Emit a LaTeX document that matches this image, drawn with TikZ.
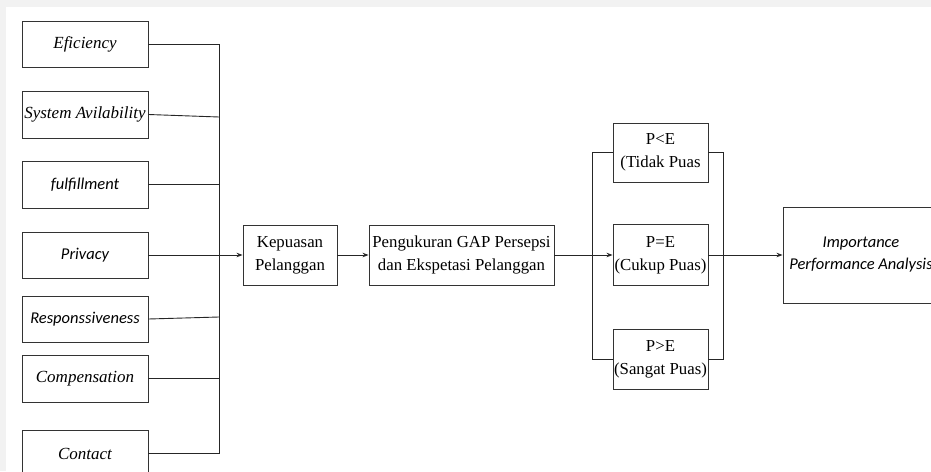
\documentclass[tikz,border=0pt]{standalone}
\usepackage{fontspec}
\setmainfont{Liberation Serif}
\newfontfamily\calfont{Carlito}
\usetikzlibrary{arrows.meta}
\begin{document}
\begin{tikzpicture}[x=1pt,y=-1pt,
 box/.style={draw=black!80, line width=0.9pt, inner sep=0pt, align=center},
 lbox/.style={box, minimum width=126pt},
 ln/.style={draw=black!85, line width=0.9pt},
 arr/.style={ln, -{Stealth[length=6pt,width=4.5pt]}},
 tf/.style={font=\fontsize{16.8}{23}\selectfont},
 ti/.style={font=\fontsize{17}{22}\selectfont\itshape},
 ci/.style={font=\calfont\fontsize{16.5}{22}\selectfont\itshape}]
\useasboundingbox (0,0) rectangle (931,471);
\clip (0,0) rectangle (931,471);
\fill[gray!10] (0,0) rectangle (931,7);
\fill[gray!10] (0,0) rectangle (6,471);
% left factor boxes
\node[lbox,ti,minimum height=46pt] (eff) at (85,44) {Eficiency};
\node[lbox,ti,minimum height=47pt] (sys) at (85,114.5) {System Avilability};
\node[lbox,ci,minimum height=47pt] (ful) at (85,184.5) {fulfillment};
\node[lbox,ci,minimum height=46pt] (pri) at (85,255) {Privacy};
\node[lbox,ci,minimum height=46pt] (res) at (85,319) {Responssiveness};
\node[lbox,ti,minimum height=47pt] (com) at (85,378.5) {Compensation};
\node[lbox,ti,minimum height=47pt] (con) at (85,453.5) {Contact};
% bus coordinates
\coordinate (b1) at (219,44);
\coordinate (b2) at (219,117);
\coordinate (b3) at (219,184.5);
\coordinate (b5) at (219,317);
\coordinate (b6) at (219,378.5);
\coordinate (b7) at (219,453.5);
% middle boxes
\node[box,tf,minimum width=94pt,minimum height=60pt] (kep) at (290,255) {Kepuasan\\Pelanggan};
\node[box,tf,minimum width=185pt,minimum height=60pt] (gap) at (461.5,255) {Pengukuran GAP Persepsi\\dan Ekspetasi Pelanggan};
% result boxes
\node[box,tf,minimum width=95pt,minimum height=59pt] (pl) at (660.5,152.5) {P<E\\(Tidak Puas};
\node[box,tf,minimum width=95pt,minimum height=61pt] (pe) at (660.5,255) {P=E\\(Cukup Puas)};
\node[box,tf,minimum width=95pt,minimum height=60pt] (pg) at (660.5,359) {P>E\\(Sangat Puas)};
\node[box,ci,minimum width=156pt,minimum height=96pt] (ipa) at (861,255) {Importance\\Performance Analysis};
% bracket coordinates
\coordinate (l1) at (592,152.5);
\coordinate (l3) at (592,359);
\coordinate (r1) at (723,152.5);
\coordinate (r3) at (723,359);
% connectors: factors to bus
\draw[ln] (eff.east) -- (b1) -- (b7) -- (con.east);
\draw[ln] (sys.east) -- (b2);
\draw[ln] (ful.east) -- (b3);
\draw[ln] (res.east) -- (b5);
\draw[ln] (com.east) -- (b6);
\draw[arr] (pri.east) -- (kep.west);
\draw[arr] (kep.east) -- (gap.west);
\draw[arr] (gap.east) -- (pe.west);
\draw[ln] (pl.west) -- (l1) -- (l3) -- (pg.west);
\draw[ln] (pl.east) -- (r1) -- (r3) -- (pg.east);
\draw[arr] (pe.east) -- (ipa.west);
\end{tikzpicture}
\end{document}
